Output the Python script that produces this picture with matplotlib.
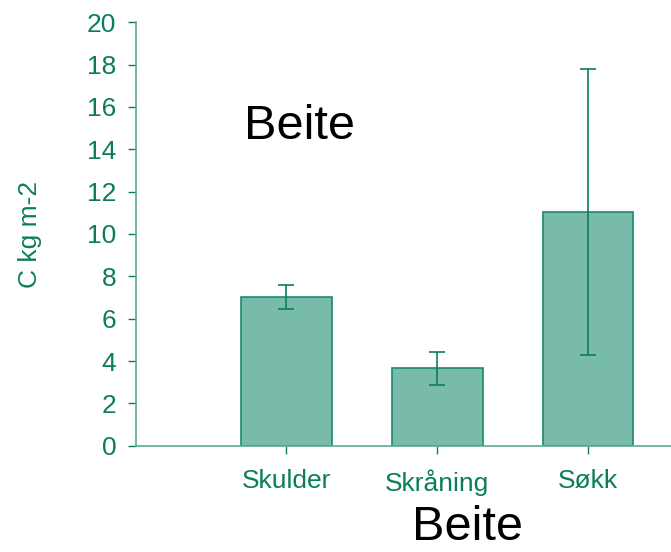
import matplotlib

matplotlib.use("Agg")
import matplotlib.pyplot as plt

plt.rcParams["font.family"] = ["Liberation Sans", "DejaVu Sans"]

categories = ["Skulder", "Skråning", "Søkk"]
carbon = [7.03, 3.65, 11.03]
carbon_err = [0.56, 0.77, 6.76]
yticks = list(range(0, 21, 2))

GREEN = "#0b7d5e"
FILL = "#78bbab"
EDGE = "#1b8c6c"
SPINE = "#5ea894"

fig = plt.figure(figsize=(6.71, 5.52), dpi=100)
ax = fig.add_axes([0.2022, 0.1926, 0.7978, 0.767])

pos = [1, 2, 3]
ax.bar(pos, carbon, width=0.6, color=FILL, edgecolor=EDGE, linewidth=1.2, zorder=2)
ax.errorbar(pos, carbon, yerr=carbon_err, fmt="none", ecolor=GREEN,
            elinewidth=1.2, capsize=6, capthick=1.2, zorder=3)

ax.set_xlim(0, 3.55)
ax.set_ylim(0, 20)
ax.set_yticks(yticks)
ax.set_xticks(pos)
ax.set_xticklabels(categories)
ax.tick_params(axis="both", colors=GREEN, labelsize=19, length=6, width=1, direction="out")
ax.tick_params(axis="y", pad=8)
ax.tick_params(axis="x", pad=11)
for lab in ax.get_xticklabels() + ax.get_yticklabels():
    lab.set_color(GREEN)
for s in ("top", "right"):
    ax.spines[s].set_visible(False)
for s in ("left", "bottom"):
    ax.spines[s].set_color(SPINE)
    ax.spines[s].set_linewidth(1.2)

ax.set_ylabel("C kg m-2", color=GREEN, fontsize=19, labelpad=32)

fig.text(0.447, 0.77, "Beite", fontsize=35, ha="center", va="center", color="black")
fig.text(0.696, 0.044, "Beite", fontsize=35, ha="center", va="center", color="black")

fig.savefig("out.png", dpi=100)
